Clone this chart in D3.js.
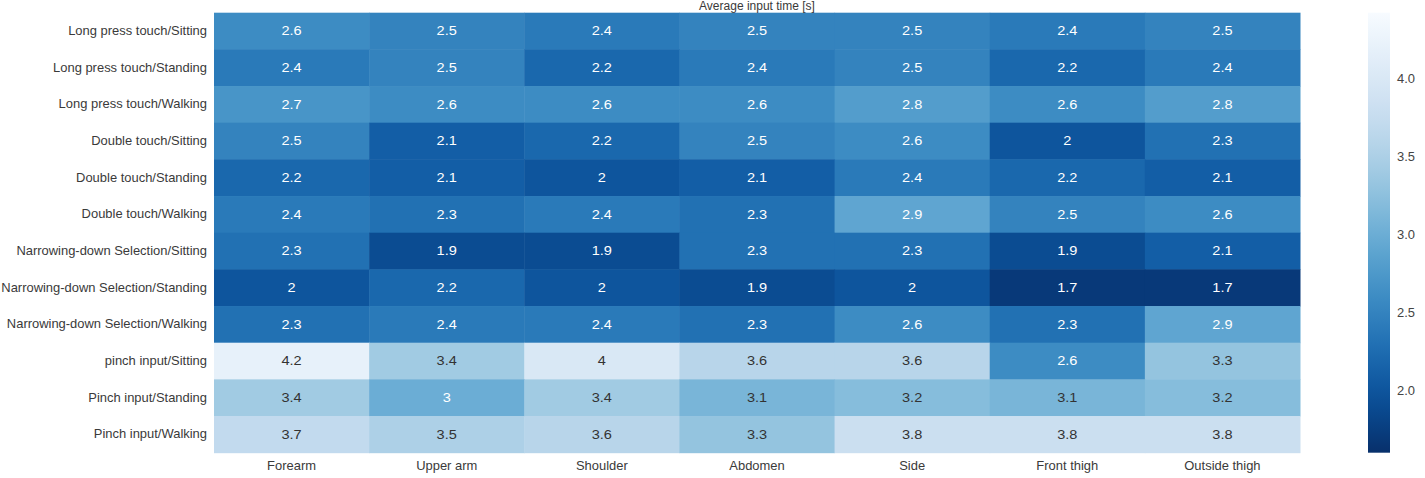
<!DOCTYPE html>
<html>
<head>
<meta charset="utf-8">
<script src="https://cdn.jsdelivr.net/npm/d3@7"></script>
<style>
  html, body { margin: 0; padding: 0; background: #fff; }
  svg { display: block; font-family: "Liberation Sans", Arial, sans-serif; }
</style>
</head>
<body>
<svg id="chart" width="1425" height="478"></svg>
<script>
// ---- data ----
const rowLabels = [
  "Long press touch/Sitting",
  "Long press touch/Standing",
  "Long press touch/Walking",
  "Double touch/Sitting",
  "Double touch/Standing",
  "Double touch/Walking",
  "Narrowing-down Selection/Sitting",
  "Narrowing-down Selection/Standing",
  "Narrowing-down Selection/Walking",
  "pinch input/Sitting",
  "Pinch input/Standing",
  "Pinch input/Walking"
];
const colLabels = ["Forearm", "Upper arm", "Shoulder", "Abdomen", "Side", "Front thigh", "Outside thigh"];
const values = [
  [2.6, 2.5, 2.4, 2.5, 2.5, 2.4, 2.5],
  [2.4, 2.5, 2.2, 2.4, 2.5, 2.2, 2.4],
  [2.7, 2.6, 2.6, 2.6, 2.8, 2.6, 2.8],
  [2.5, 2.1, 2.2, 2.5, 2.6, 2.0, 2.3],
  [2.2, 2.1, 2.0, 2.1, 2.4, 2.2, 2.1],
  [2.4, 2.3, 2.4, 2.3, 2.9, 2.5, 2.6],
  [2.3, 1.9, 1.9, 2.3, 2.3, 1.9, 2.1],
  [2.0, 2.2, 2.0, 1.9, 2.0, 1.7, 1.7],
  [2.3, 2.4, 2.4, 2.3, 2.6, 2.3, 2.9],
  [4.2, 3.4, 4.0, 3.6, 3.6, 2.6, 3.3],
  [3.4, 3.0, 3.4, 3.1, 3.2, 3.1, 3.2],
  [3.7, 3.5, 3.6, 3.3, 3.8, 3.8, 3.8]
];
const colorMin = 1.6;
const colorMax = 4.42;
const colorbarTicks = [2.0, 2.5, 3.0, 3.5, 4.0];
const title = "Average input time [s]";

// ---- layout ----
const svg = d3.select("#chart");
const mLeft = 214, mRight = 1300, mTop = 12.7, mBottom = 452.7;
const cbLeft = 1368, cbWidth = 22;
const FONT = "'Liberation Sans', Arial, sans-serif";

const x = d3.scaleBand().domain(colLabels).range([mLeft, mRight]).padding(0);
const y = d3.scaleBand().domain(rowLabels).range([mTop, mBottom]).padding(0);
const color = d3.scaleSequential(t => d3.interpolateBlues(1 - t)).domain([colorMin, colorMax]);

function luminance(c) {
  const rgb = d3.rgb(c);
  const lin = v => { v /= 255; return v <= 0.03928 ? v / 12.92 : Math.pow((v + 0.055) / 1.055, 2.4); };
  return 0.2126 * lin(rgb.r) + 0.7152 * lin(rgb.g) + 0.0722 * lin(rgb.b);
}

const cells = [];
values.forEach((row, i) => row.forEach((v, j) => cells.push({ r: rowLabels[i], c: colLabels[j], v })));

svg.append("g").selectAll("rect").data(cells).join("rect")
  .attr("x", d => x(d.c))
  .attr("y", d => y(d.r))
  .attr("width", x.bandwidth() + 0.5)
  .attr("height", y.bandwidth() + 0.5)
  .attr("fill", d => color(d.v));

svg.append("g").selectAll("g").data(cells).join("g")
  .attr("transform", d => `translate(${x(d.c) + x.bandwidth() / 2},${y(d.r) + y.bandwidth() / 2})`)
  .append("text")
  .attr("transform", "scale(1.12,1)")
  .attr("text-anchor", "middle")
  .attr("dominant-baseline", "central")
  .attr("font-size", 13)
  .attr("fill", d => luminance(color(d.v)) > 0.408 ? "#333333" : "#ffffff")
  .text(d => d3.format(".2~g")(d.v));

// axes
const yAxis = svg.append("g").attr("transform", `translate(${mLeft - 7},0)`)
  .call(d3.axisLeft(y).tickSize(0).tickPadding(0));
yAxis.select(".domain").remove();
yAxis.selectAll("text").attr("font-size", 12).attr("fill", "#3a3a3a")
  .attr("font-family", FONT).attr("transform", "scale(1.08,1)");

const xAxis = svg.append("g").attr("transform", `translate(0,${mBottom + 9})`)
  .call(d3.axisBottom(x).tickSize(0).tickPadding(0));
xAxis.select(".domain").remove();
xAxis.selectAll("text").attr("font-size", 12).attr("fill", "#3a3a3a")
  .attr("font-family", FONT).attr("transform", "scale(1.08,1)");

// title
svg.append("text")
  .attr("x", (mLeft + mRight) / 2)
  .attr("y", 9.5)
  .attr("text-anchor", "middle")
  .attr("font-size", 12)
  .attr("fill", "#3a3a3a")
  .text(title);

// colorbar
const cbScale = d3.scaleLinear().domain([colorMin, colorMax]).range([mBottom, mTop]);
const defs = svg.append("defs");
const grad = defs.append("linearGradient").attr("id", "cbgrad")
  .attr("x1", 0).attr("y1", 1).attr("x2", 0).attr("y2", 0);
d3.range(0, 1.0001, 0.05).forEach(t => {
  grad.append("stop").attr("offset", t).attr("stop-color", color(colorMin + t * (colorMax - colorMin)));
});
svg.append("rect").attr("x", cbLeft).attr("y", mTop).attr("width", cbWidth)
  .attr("height", mBottom - mTop).attr("fill", "url(#cbgrad)");

const cbAxis = svg.append("g").attr("transform", `translate(${cbLeft + cbWidth + 7},0)`)
  .call(d3.axisRight(cbScale).tickValues(colorbarTicks).tickFormat(d3.format(".1f")).tickSize(0).tickPadding(0));
cbAxis.select(".domain").remove();
cbAxis.selectAll("text").attr("font-size", 12).attr("fill", "#444")
  .attr("font-family", FONT).attr("transform", "scale(1.08,1)");
</script>
</body>
</html>
